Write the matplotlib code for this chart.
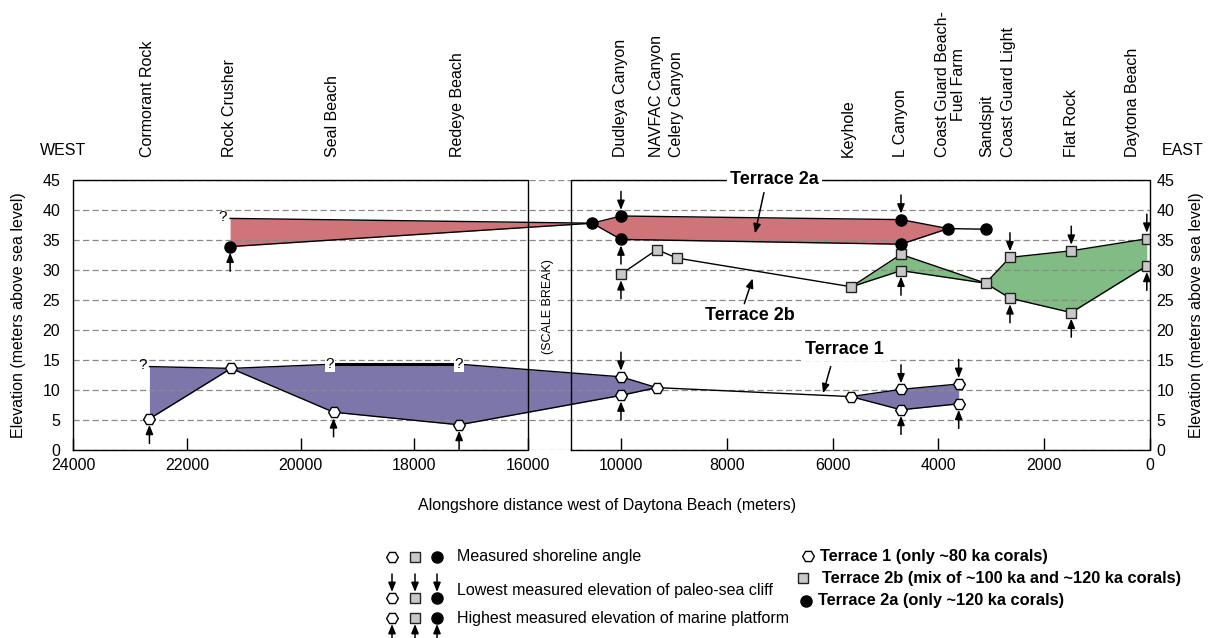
import numpy as np
import matplotlib
matplotlib.use('Agg')
import matplotlib.pyplot as plt

plt.rcParams['font.family'] = ['Liberation Sans', 'DejaVu Sans']
plt.rcParams['font.size'] = 11.5

# ---------------- data ----------------
site_names = ['Cormorant Rock', 'Rock Crusher', 'Seal Beach', 'Redeye Beach',
              'Dudleya Canyon', 'NAVFAC Canyon', 'Celery Canyon', 'Keyhole',
              'L Canyon', 'Coast Guard Beach-\nFuel Farm', 'Sandspit',
              'Coast Guard Light', 'Flat Rock', 'Daytona Beach']
site_label_x = [22700, 21250, 19440, 17230, 10000, 9330, 8950, 5700,
                4710, 3770, 3090, 2680, 1490, 340]

x_ticks = [24000, 22000, 20000, 18000, 16000, 10000, 8000, 6000, 4000, 2000, 0]
x_tick_labels = [str(v) for v in x_ticks]
y_ticks = [0, 5, 10, 15, 20, 25, 30, 35, 40, 45]

# Terrace 1 (west band, link line, east band)
t1_x = [22661, 21224, 19419, 17208, 10000, 9325]
t1_top = [13.9, 13.6, 14.3, 14.3, 12.2, 10.4]
t1_bot = [5.2, 13.6, 6.3, 4.2, 9.1, 10.4]
t1_link_x = [9325, 5652]
t1_link_y = [10.4, 8.9]
t1e_x = [5652, 4707, 3616]
t1e_top = [8.9, 10.1, 11.0]
t1e_bot = [8.9, 6.7, 7.7]

# Terrace 2a
t2a_x = [21240, 10543, 10000, 4707, 3813]
t2a_top = [38.6, 37.8, 39.0, 38.4, 36.9]
t2a_bot = [33.9, 37.8, 35.1, 34.3, 36.9]
t2a_tail_x = [3813, 3106]
t2a_tail_y = [36.9, 36.8]

# Terrace 2b
t2b_line_x = [10000, 9319, 8947, 5646]
t2b_line_y = [29.3, 33.4, 32.0, 27.2]
t2b_a_x = [5646, 4707, 3106]
t2b_a_top = [27.2, 32.6, 27.8]
t2b_a_bot = [27.2, 29.9, 27.8]
t2b_b_x = [3106, 2647, 1488, 60]
t2b_b_top = [27.8, 32.1, 33.2, 35.2]
t2b_b_bot = [27.8, 25.3, 22.9, 30.7]

# markers
hex_x = [22661, 21224, 19419, 17208, 10000, 10000, 9325, 5652, 4707, 4707, 3616, 3616]
hex_y = [5.2, 13.6, 6.3, 4.2, 12.2, 9.1, 10.4, 8.9, 10.1, 6.7, 11.0, 7.7]
sq_x = [10000, 9319, 8947, 5646, 4707, 4707, 3106, 2647, 2647, 1488, 1488, 60, 60]
sq_y = [29.3, 33.4, 32.0, 27.2, 32.6, 29.9, 27.8, 32.1, 25.3, 33.2, 22.9, 35.2, 30.7]
dot_x = [21240, 10543, 10000, 10000, 4707, 4707, 3813, 3106]
dot_y = [33.9, 37.8, 39.0, 35.1, 38.4, 34.3, 36.9, 36.8]

# arrows: lowest paleo-sea cliff (down) / highest platform (up)
down_x = [10000, 4707, 10000, 4707, 3616, 2647, 1488, 60]
down_y = [39.0, 38.4, 12.2, 10.1, 11.0, 32.1, 33.2, 35.2]
up_x = [22661, 21240, 19419, 17208, 10000, 10000, 10000, 4707, 4707, 3616, 2647, 1488, 60]
up_y = [5.2, 33.9, 6.3, 4.2, 35.1, 29.3, 9.1, 29.9, 6.7, 7.7, 25.3, 22.9, 30.7]

# uncertain ends
q_side_x = [22661, 21240]
q_side_y = [13.9, 38.6]
q_on_x = [19480, 17208]
q_on_y = [14.3, 14.3]

# terrace name labels and their pointer arrows
terr_names = ['Terrace 2a', 'Terrace 2b', 'Terrace 1']
terr_text_x = [7095, 7561, 5784]
terr_text_y = [45.0, 22.5, 16.8]
terr_arrow_from = [(7297, 42.9), (7668, 24.4), (6036, 13.9)]
terr_arrow_to = [(7467, 36.1), (7510, 28.6), (6181, 9.45)]

# ---------------- scale break (piecewise linear x scale) ----------------
BRK = np.array([0.0, 10950.0, 16000.0, 24000.0])
PIX = np.array([0.0, 579.3, 622.3, 1076.6])


def _pl(x, xp, fp):
    x = np.asarray(x, dtype=float)
    y = np.interp(x, xp, fp)
    y = np.where(x < xp[0], fp[0] + (x - xp[0]) * (fp[1] - fp[0]) / (xp[1] - xp[0]), y)
    y = np.where(x > xp[-1], fp[-1] + (x - xp[-1]) * (fp[-1] - fp[-2]) / (xp[-1] - xp[-2]), y)
    return y


def fwd(x):
    return _pl(x, BRK, PIX)


def inv(q):
    return _pl(q, PIX, BRK)


RED = '#CF7478'
PURPLE = '#7C76AA'
GREEN = '#80BC84'
GRAYSQ = '#C8C8C8'

fig = plt.figure(figsize=(12.11, 6.38), dpi=100)
W, H = 1211.0, 638.0
ax = fig.add_axes([73.4 / W, (H - 450) / H, 1076.6 / W, 270 / H])
ax.set_xscale('function', functions=(fwd, inv))
ax.set_xlim(24000, 0)
ax.set_ylim(0, 45)
for s in ax.spines.values():
    s.set_visible(False)

ax.set_xticks(x_ticks)
ax.set_xticklabels(x_tick_labels)
ax.xaxis.set_minor_locator(matplotlib.ticker.NullLocator())
ax.tick_params(axis='x', direction='in', length=8.5, width=1.0, pad=6, labelsize=11.5)
ax.set_yticks(y_ticks)
ax.tick_params(axis='y', length=0, pad=9.5, labelsize=11.5)
ax.grid(axis='y', linestyle=(0, (5, 2.6)), color='#8a8a8a', linewidth=0.9)
ax.set_axisbelow(False)

ax2 = ax.secondary_yaxis('right')
ax2.set_yticks(y_ticks)
ax2.tick_params(length=0, pad=4.5, labelsize=11.5)
ax2.spines['right'].set_visible(False)

# panel frames
for xa, xb in [(24000, 16000), (10950, 0)]:
    ax.plot([xa, xb, xb, xa, xa], [0, 0, 45, 45, 0], color='k', lw=1.0,
            clip_on=False, zorder=5, solid_joinstyle='miter')

# fills
ax.fill_between(t1_x, t1_top, t1_bot, color=PURPLE, lw=0, zorder=1)
ax.fill_between(t1e_x, t1e_top, t1e_bot, color=PURPLE, lw=0, zorder=1)
ax.fill_between(t2a_x, t2a_top, t2a_bot, color=RED, lw=0, zorder=1)
ax.fill_between(t2b_a_x, t2b_a_top, t2b_a_bot, color=GREEN, lw=0, zorder=1)
ax.fill_between(t2b_b_x, t2b_b_top, t2b_b_bot, color=GREEN, lw=0, zorder=1)

# outlines
LW = 1.0
for xs, ys in [(t1_x, t1_top), (t1_x, t1_bot), (t1_link_x, t1_link_y),
               (t1e_x, t1e_top), (t1e_x, t1e_bot),
               (t2a_x, t2a_top), (t2a_x, t2a_bot), (t2a_tail_x, t2a_tail_y),
               (t2b_line_x, t2b_line_y), (t2b_a_x, t2b_a_top), (t2b_a_x, t2b_a_bot),
               (t2b_b_x, t2b_b_top), (t2b_b_x, t2b_b_bot)]:
    ax.plot(xs, ys, color='k', lw=LW, zorder=3, solid_joinstyle='miter')
# thicker stretch between the two uncertain ends
ax.plot(q_on_x, q_on_y, color='k', lw=2.2, zorder=3)

# markers
ax.plot(hex_x, hex_y, ls='none', marker='H', ms=8.4, mfc='white', mec='k', mew=1.0, zorder=4)
ax.plot(sq_x, sq_y, ls='none', marker='s', ms=7.0, mfc=GRAYSQ, mec='#222222', mew=1.0, zorder=4)
ax.plot(dot_x, dot_y, ls='none', marker='o', ms=8.0, mfc='k', mec='k', zorder=4)

ARW = dict(arrowstyle='-|>,head_length=0.55,head_width=0.22', color='k', lw=1.1,
           shrinkA=0, shrinkB=0, mutation_scale=10)
for x, y in zip(down_x, down_y):
    ax.annotate('', xy=(x, y + 1.0), xytext=(x, y + 4.1), arrowprops=ARW,
                annotation_clip=False, zorder=4)
for x, y in zip(up_x, up_y):
    ax.annotate('', xy=(x, y - 1.0), xytext=(x, y - 4.1), arrowprops=ARW,
                annotation_clip=False, zorder=4)

# question marks
for x, y in zip(q_side_x, q_side_y):
    ax.annotate('?', xy=(x, y), xytext=(-2, 1), textcoords='offset points',
                ha='right', va='center', fontsize=11, zorder=6)
for x, y in zip(q_on_x, q_on_y):
    ax.text(x, y, '?', ha='center', va='center', fontsize=11, zorder=6,
            bbox=dict(fc='white', ec='none', pad=0.3))

# terrace labels
for name, tx, ty in zip(terr_names, terr_text_x, terr_text_y):
    ax.text(tx, ty, name, ha='center', va='center', fontsize=13, fontweight='bold',
            zorder=6, bbox=dict(fc='white', ec='none', pad=2.5), clip_on=False)
for (x0, y0), (x1, y1) in zip(terr_arrow_from, terr_arrow_to):
    ax.annotate('', xy=(x1, y1), xytext=(x0, y0), arrowprops=ARW, zorder=6)

ax.text(13616, 23.9, '(SCALE BREAK)', rotation=90, ha='center', va='center',
        fontsize=9, zorder=6, bbox=dict(fc='white', ec='none', pad=1.5))

# site names
for name, sx in zip(site_names, site_label_x):
    ax.text(sx, 1.085, name, transform=ax.get_xaxis_transform(), rotation=90,
            ha='center', va='bottom', fontsize=11.5, linespacing=1.15)
ax.text(-0.031, 1.081, 'WEST', transform=ax.transAxes, ha='left', va='bottom', fontsize=11.5)
ax.text(1.0105, 1.081, 'EAST', transform=ax.transAxes, ha='left', va='bottom', fontsize=11.5)

# axis labels
ax.set_xlabel('Alongshore distance west of Daytona Beach (meters)', fontsize=11.5)
ax.xaxis.set_label_coords(0.4957, -0.176)
ax.set_ylabel('Elevation (meters above sea level)', fontsize=11.5)
ax.yaxis.set_label_coords(-0.044, 0.5)
ax.text(1.0365, 0.5, 'Elevation (meters above sea level)', transform=ax.transAxes,
        rotation=90, ha='left', va='center', fontsize=11.5)

# ---------------- legend (figure pixel space) ----------------
lax = fig.add_axes([0, 0, 1, 1])
lax.set_xlim(0, W)
lax.set_ylim(H, 0)
lax.axis('off')

leg_cols_x = [392, 415, 437]
leg_styles = [dict(marker='H', ms=8.4, mfc='white', mec='k', mew=1.0),
              dict(marker='s', ms=7.0, mfc=GRAYSQ, mec='#222222', mew=1.0),
              dict(marker='o', ms=8.0, mfc='k', mec='k')]
leg_texts = ['Measured shoreline angle',
             'Lowest measured elevation of paleo-sea cliff',
             'Highest measured elevation of marine platform']
row_marker_y = [557, 598, 618]
row_text_y = [557, 590, 618]
for i, (my, ty, txt) in enumerate(zip(row_marker_y, row_text_y, leg_texts)):
    for cx, st in zip(leg_cols_x, leg_styles):
        lax.plot([cx], [my], ls='none', **st)
        if i == 1:
            lax.annotate('', xy=(cx, my - 6), xytext=(cx, my - 24), arrowprops=ARW)
        elif i == 2:
            lax.annotate('', xy=(cx, my + 6), xytext=(cx, my + 24), arrowprops=ARW,
                         annotation_clip=False)
    lax.text(457, ty, txt, ha='left', va='center', fontsize=11.5)

key_texts = ['Terrace 1 (only ~80 ka corals)',
             'Terrace 2b (mix of ~100 ka and ~120 ka corals)',
             'Terrace 2a (only ~120 ka corals)']
key_marker_x = [808, 803, 806]
key_text_x = [820, 822, 818]
key_y = [556, 578, 601]
for st, mx, tx, ky, txt in zip(leg_styles, key_marker_x, key_text_x, key_y, key_texts):
    lax.plot([mx], [ky], ls='none', **st)
    lax.text(tx, ky, txt, ha='left', va='center', fontsize=11.8, fontweight='bold')

fig.savefig('out.png', dpi=100)
